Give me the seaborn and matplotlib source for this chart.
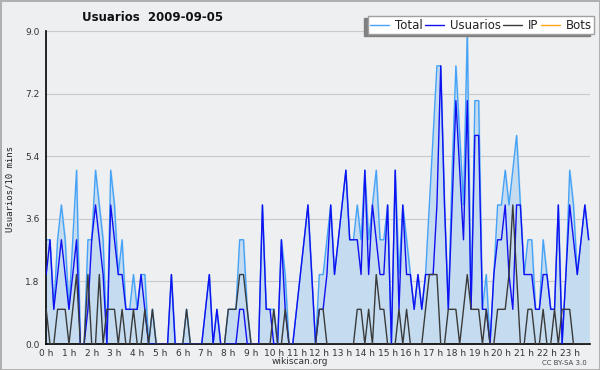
import numpy as np
import pandas as pd
import matplotlib
matplotlib.use('Agg')
import matplotlib.pyplot as plt
from matplotlib.ticker import MultipleLocator
import seaborn as sns

# editions per 10-minute slot, 2009-09-05 (144 slots)
total = [3, 3, 1, 3, 4, 3, 1, 3, 5, 0, 0, 3, 3, 5, 4, 3, 0, 5, 4, 2,
         3, 1, 1, 2, 1, 2, 2, 0, 1, 0, 0, 0, 0, 2, 0, 0, 0, 1, 0, 0,
         0, 0, 1, 2, 0, 1, 0, 0, 1, 1, 1, 3, 3, 1, 0, 0, 0, 4, 1, 1,
         1, 0, 3, 2, 0, 0, 1, 2, 3, 4, 2, 0, 2, 2, 3, 4, 2, 3, 4, 5,
         3, 3, 4, 3, 5, 3, 4, 5, 3, 3, 4, 0, 5, 2, 4, 3, 2, 1, 2, 1,
         2, 4, 6, 8, 8, 4, 1, 5, 8, 6, 4, 9, 1, 7, 7, 1, 2, 0, 2, 4,
         4, 5, 4, 5, 6, 4, 2, 3, 3, 1, 1, 3, 2, 1, 1, 4, 0, 2, 5, 4,
         2, 3, 4, 3]
usuarios = [2, 3, 1, 2, 3, 2, 1, 2, 3, 0, 0, 1, 3, 4, 3, 2, 0, 4, 3, 2,
            2, 1, 1, 1, 1, 2, 1, 0, 0, 0, 0, 0, 0, 2, 0, 0, 0, 0, 0, 0,
            0, 0, 1, 2, 0, 1, 0, 0, 0, 0, 0, 1, 1, 0, 0, 0, 0, 4, 1, 1,
            0, 0, 3, 1, 0, 0, 1, 2, 3, 4, 2, 0, 1, 1, 2, 4, 2, 3, 4, 5,
            3, 3, 3, 2, 5, 2, 4, 3, 2, 2, 4, 0, 5, 1, 4, 2, 2, 1, 2, 1,
            2, 2, 2, 4, 8, 4, 1, 4, 7, 5, 3, 7, 1, 6, 6, 1, 1, 0, 2, 3,
            3, 4, 2, 1, 4, 4, 2, 2, 2, 1, 1, 2, 2, 1, 1, 4, 0, 2, 4, 3,
            2, 3, 4, 3]
ip = [1, 0, 0, 1, 1, 1, 0, 1, 2, 0, 0, 2, 0, 0, 2, 0, 1, 1, 1, 0,
      1, 0, 0, 1, 0, 0, 1, 0, 1, 0, 0, 0, 0, 0, 0, 0, 0, 1, 0, 0,
      0, 0, 0, 0, 0, 0, 0, 0, 1, 1, 1, 2, 2, 1, 0, 0, 0, 0, 0, 0,
      1, 0, 0, 1, 0, 0, 0, 0, 0, 0, 0, 0, 1, 1, 0, 0, 0, 0, 0, 0,
      0, 0, 1, 1, 0, 1, 0, 2, 1, 1, 0, 0, 0, 1, 0, 1, 0, 0, 0, 0,
      1, 2, 2, 2, 0, 0, 1, 1, 1, 0, 1, 2, 1, 1, 1, 0, 1, 0, 0, 1,
      1, 1, 2, 4, 2, 0, 0, 1, 1, 0, 0, 1, 0, 0, 1, 0, 1, 1, 1, 0,
      0, 0, 0, 0]
bots = [0] * 144
series = ['Total', 'Usuarios', 'IP', 'Bots']
colors = {'Total': '#45a3f7', 'Usuarios': '#1010f0', 'IP': '#3a3a3a', 'Bots': '#ffa31a'}
hours = [f'{h} h' for h in range(24)]
yticks = [0.0, 1.8, 3.6, 5.4, 7.2, 9.0]

bg = '#eeeff1'
sns.set_style('white')
plt.rcParams['font.family'] = ['DejaVu Sans']

df = pd.DataFrame({'slot': np.arange(len(total)), 'Total': total,
                   'Usuarios': usuarios, 'IP': ip, 'Bots': bots})
long = df.melt(id_vars='slot', var_name='serie', value_name='n')

fig = plt.figure(figsize=(6, 3.7), dpi=100, facecolor=bg,
                 edgecolor='#b0b0b0', linewidth=2)
ax = fig.add_axes([0.077, 0.07, 0.906, 0.846])
ax.set_facecolor(bg)

ax.fill_between(df['slot'], df['Total'], color='#c5dcf0', zorder=1)
sns.lineplot(data=long, x='slot', y='n', hue='serie', hue_order=series[::-1],
             palette=colors, linewidth=1.0, legend=False, ax=ax)
lines = {s: ln for s, ln in zip(series[::-1], ax.lines)}
lines['Bots'].set_zorder(1.5)
lines['Total'].set_zorder(2)
lines['Usuarios'].set_zorder(3)
lines['IP'].set_zorder(4)

ax.set_xlim(0, 143.3)
ax.set_ylim(0, 9)
ax.set_xticks(np.arange(0, 144, 6))
ax.set_xticklabels(hours)
ax.xaxis.set_minor_locator(MultipleLocator(1))
ax.set_yticks(yticks)
ax.set_yticklabels([f'{v:.1f}' for v in yticks])
ax.yaxis.set_minor_locator(MultipleLocator(0.45))
ax.tick_params(axis='both', which='both', direction='out', color='black',
               labelsize=6.5, labelcolor='#333333')
ax.tick_params(axis='x', which='both', length=3, width=0.8, pad=0.5)
ax.tick_params(axis='y', which='major', length=4, width=0.8, pad=1)
ax.tick_params(axis='y', which='minor', length=3, width=0.8)
ax.yaxis.grid(True, color='#c9c9c9', linewidth=0.8)
ax.set_axisbelow(True)
for s in ['top', 'right']:
    ax.spines[s].set_visible(False)
for s in ['left', 'bottom']:
    ax.spines[s].set_color('black')
    ax.spines[s].set_linewidth(1.2)
ax.set_xlabel('')
ax.set_ylabel('')

handles = [lines[s] for s in series]
leg = ax.legend(handles, series, ncol=4, loc='upper right',
                bbox_to_anchor=(0.99, 0.956), bbox_transform=fig.transFigure,
                fontsize=8.5, frameon=True, fancybox=False, framealpha=1,
                edgecolor='#a0a0a0', handlelength=1.6, handletextpad=0.5,
                columnspacing=0.2, borderpad=0.2, borderaxespad=0,
                shadow={'ox': -3, 'oy': -1.5, 'color': '#808080', 'alpha': 1})
for t in leg.get_texts():
    t.set_color('#222222')

fig.text(0.255, 0.952, 'Usuarios  2009-09-05', ha='center', va='center',
         fontsize=8.5, weight='bold', color='#111111')
fig.text(0.017, 0.49, 'Usuarios/10 mins', rotation=90, ha='center', va='center',
         fontsize=6.5, family='DejaVu Sans Mono', color='#222222')
fig.text(0.5, 0.022, 'wikiscan.org', ha='center', va='center', fontsize=6.5, color='#333333')
fig.text(0.94, 0.019, 'CC BY-SA 3.0', ha='center', va='center', fontsize=5, color='#444444')

fig.savefig('out.png', dpi=100, facecolor=bg, edgecolor='#b0b0b0')
